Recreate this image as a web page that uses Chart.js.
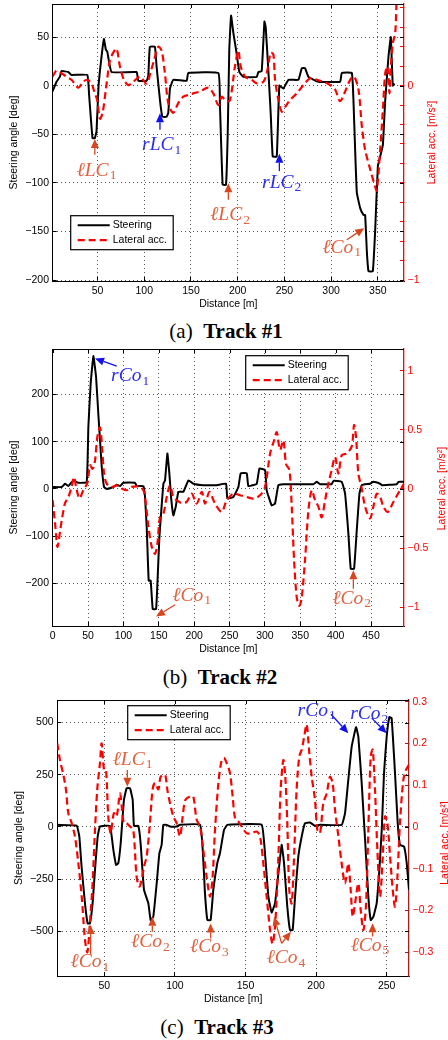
<!DOCTYPE html>
<html>
<head>
<meta charset="utf-8">
<script src="https://cdn.jsdelivr.net/npm/chart.js@4/dist/chart.umd.min.js"></script>
<style>
  body { margin: 0; background: #fff; width: 448px; height: 1040px; position: relative; overflow: hidden; }
  canvas { position: absolute; left: 0; }
  .cap { position: absolute; width: 448px; text-align: center; font: 21px/24px "Liberation Serif", serif; color: #000; }
</style>
</head>
<body>
<canvas id="c1" width="448" height="312" style="top:0px"></canvas>
<div class="cap" style="top:319px;left:2px">(a)&nbsp; <b>Track #1</b></div>
<canvas id="c2" width="448" height="317" style="top:340px"></canvas>
<div class="cap" style="top:665px;left:-4px">(b)&nbsp; <b>Track #2</b></div>
<canvas id="c3" width="448" height="317" style="top:690px"></canvas>
<div class="cap" style="top:1015px;left:-7px">(c)&nbsp; <b>Track #3</b></div>

<script>
// ---- Track #1 : [distance m, value] ----
const steer1 = [[1.8,-6],[6.1,4],[9.6,9],[11.4,15],[18.6,14],[22.1,11],[39,11],[41,-10],[44.6,-54],[47.1,-54],[48.9,-47],[51.1,0],[54.3,30],[56.8,48],[58.9,37],[60.4,35],[65,14],[91.8,14],[93.6,5],[102.5,5],[104.3,10],[106,40],[111.4,40],[113.2,19.5],[116.8,-15],[119.3,-32],[123.9,-32],[125.7,-28],[127.5,-3],[131,6],[145.4,5],[147.1,13],[179.3,13],[181,-20],[183.9,-102],[187.5,-102],[189.3,-50],[191,37],[192.9,72],[195.4,54],[198.2,37],[201.8,14],[206,9],[220.4,9],[222.1,14],[225.7,15],[228.6,66],[230,60],[232.9,14],[235.4,-30],[237.5,-73],[241.8,-73],[244.6,0],[248.9,-3],[254.3,6],[265,6],[268.6,18],[272.1,18],[275.7,9],[286.4,4],[309.6,4],[311.4,13],[322.1,13],[323.9,-15],[325.7,-66],[327.5,-110],[331.1,-126],[334.6,-133],[336.4,-133],[338.2,-170],[340,-191],[344.6,-191],[347.1,-150],[350,-83],[352.5,-73],[355.4,-61],[357.9,-15],[361.4,30],[363.9,50],[366,0],[367.9,2]];
const lat1 = [[1.8,0.046],[6.1,0.077],[11.4,0.064],[16.8,0.046],[22.1,0.03],[29.3,-0.01],[34.6,0.02],[39,0.03],[43.6,0.01],[47.1,-0.04],[49.6,-0.074],[52.5,-0.17],[55.4,-0.14],[58.9,-0.02],[63.2,0.13],[66.8,0.17],[70.4,0.19],[73.9,0.1],[78.2,0.03],[82.9,0.003],[88.2,0.02],[95.4,0.046],[102.5,0.01],[106.8,0.07],[110.4,0.13],[115,0.2],[118.6,0.18],[122.1,0.064],[125.7,-0.09],[131,-0.14],[136.4,-0.09],[141.8,-0.057],[147.1,-0.048],[152.5,-0.04],[159.6,-0.03],[168.6,-0.01],[173.9,-0.04],[179.3,-0.1],[182.9,-0.057],[187.5,-0.08],[191.8,-0.074],[197.1,0.1],[200.7,0.18],[203.2,0.1],[207.9,0.046],[215,0.03],[220.4,0.012],[227.5,0.02],[231.1,0.064],[235.4,0.17],[238.2,0.16],[240,0.03],[243.6,-0.074],[247.1,-0.134],[250.7,-0.11],[256.1,-0.074],[263.2,-0.04],[270.4,0.003],[277.5,0.038],[284.6,0.03],[291.8,0.02],[298.9,0.003],[304.3,-0.02],[309.6,-0.08],[315,-0.03],[320.4,0.03],[324.6,0.046],[329.3,-0.02],[332.9,-0.21],[336.4,-0.33],[341.8,-0.43],[347.1,-0.52],[348.9,-0.54],[352.5,-0.33],[355.4,-0.125],[357.9,0.064],[360.4,0.1],[362.5,-0.04],[363.9,0.1],[366.1,0.22],[368.6,0.27],[370.4,0.5]];
const xTicks1 = [50,100,150,200,250,300,350];
const yTicks1 = [-200,-150,-100,-50,0,50];
const rTicks1 = [-1,-0.9,-0.8,-0.7,-0.6,-0.5,-0.4,-0.3,-0.2,-0.1,0,0.1,0.2,0.3,0.4];
const rLabels1 = [-1,0];

// ---- Track #2 ----
const steer2 = [[0,4],[12.7,4],[17.4,11],[22,6],[29.2,18],[36.3,13],[48,14],[50.4,131],[53.7,223],[57.5,281],[61.3,237],[64.6,156],[66.9,103],[69.3,47],[72.6,4],[76.3,0],[85.8,4],[90.5,9],[95.2,6],[99.9,13],[116.4,13],[118.8,6],[128.2,6],[130.5,-17],[132.9,-81],[135.7,-194],[138.5,-194],[141.4,-254],[146.1,-254],[148,-201],[150.8,-102],[153.2,-52],[156.5,11],[158.8,18],[162.1,75],[164.9,33],[167.3,-17],[170.6,-56],[173.9,-38],[177.7,-6],[184.7,-6],[191.8,18],[198.9,11],[213,8],[231.9,8],[245,11],[246.9,-20],[255.4,-17],[262.5,4],[265.8,33],[274.3,33],[276.6,6],[288.4,11],[292.2,43],[300.2,40],[302.5,-3],[309.6,-35],[314.3,-31],[319,8],[326.1,10],[368.5,10],[373.2,15],[378,10],[394.4,10],[396.8,17],[408.6,15],[413.3,-10],[418,-95],[421.3,-169],[426,-169],[429.8,-88],[433.6,-10],[436.9,8],[448.6,11],[453.3,15],[462.8,11],[465.1,8],[486.3,10],[488.7,15],[496.7,15]];
const lat2 = [[0,-0.096],[3.3,-0.29],[6.6,-0.49],[8.5,-0.44],[10.4,-0.36],[12.7,-0.27],[17.4,-0.12],[22.1,-0.07],[26.9,0.02],[30.2,0.1],[33,0.02],[37.7,-0.08],[43.4,-0.01],[49,0.05],[52.8,0.2],[56.5,0.17],[59.8,0.24],[63.1,0.44],[66.9,0.52],[69.7,0.36],[72.6,0.13],[76.3,0.045],[83.4,0.017],[90.5,0.03],[97.5,0.003],[104.6,-0.011],[111.7,0.017],[123.5,0.017],[129.1,-0.025],[135.3,-0.32],[140,-0.49],[144.7,-0.55],[148,-0.46],[151.7,-0.24],[156.5,-0.21],[161.2,-0.068],[165.9,0.03],[170.6,-0.068],[175.3,-0.096],[182.4,-0.12],[189.4,-0.11],[196.5,-0.04],[203.6,-0.124],[210.7,-0.025],[215.4,-0.124],[221.5,-0.025],[229.5,-0.124],[238.9,-0.195],[246,-0.096],[255.4,-0.04],[264.8,-0.054],[274.3,-0.068],[283.7,-0.082],[293.1,-0.054],[300.2,0.017],[307.3,0.3],[312.9,0.41],[316.7,0.48],[321.4,0.33],[326.1,0.41],[329.9,0.21],[334.6,0.16],[337.9,-0.15],[341.2,-0.6],[345,-0.92],[348.7,-0.99],[352,-0.92],[356.7,-0.6],[361.5,-0.18],[366.2,-0.011],[370.9,-0.096],[375.6,-0.15],[380.3,-0.24],[385,-0.096],[389.7,0.045],[394.4,0.16],[399.2,0.27],[403.9,0.13],[408.6,0.285],[415.6,0.3],[422.7,0.36],[426,0.54],[428.8,0.44],[432.1,0.13],[436.9,0.003],[441.6,-0.15],[448.6,-0.25],[453.3,-0.15],[458.1,-0.04],[462.8,-0.068],[467.5,-0.15],[473.6,-0.195],[481.6,-0.11],[491,-0.011],[496.7,0.045]];
const xTicks2 = [0,50,100,150,200,250,300,350,400,450];
const yTicks2 = [-200,-100,0,100,200];
const rTicks2 = [-1,-0.5,0,0.5,1];
const rLabels2 = [-1,-0.5,0,0.5,1];

// ---- Track #3 ----
const steer3 = [[16.7,10],[30.4,6],[32.3,-46],[33.9,-190],[36.3,-366],[38.2,-462],[39.8,-462],[41.7,-366],[43.4,-206],[45.3,-46],[46.9,2],[54,5],[56.4,-110],[58.3,-182],[59.9,-174],[61.6,-78],[63.9,130],[65.8,185],[68.2,185],[70.1,130],[71,5],[74.1,5],[75.7,-78],[78.1,-302],[81.2,-366],[82.8,-446],[84.7,-430],[87.1,-270],[89,-126],[90.6,-86],[91.8,10],[94.2,10],[96.5,2],[101.2,2],[103.6,10],[117.8,10],[119.7,-110],[121.3,-318],[123,-446],[125.3,-446],[127.2,-302],[130,-174],[131.9,-126],[134.8,-14],[137.1,10],[146.1,13],[161.5,10],[163.8,-126],[166.2,-334],[168.5,-410],[170.9,-366],[173.3,-222],[175.6,-86],[177.3,-174],[179.6,-382],[181.5,-494],[183.4,-494],[185.1,-334],[187.4,-142],[189.8,-46],[192.1,18],[195.7,21],[199.2,5],[202.8,10],[218.1,10],[220.5,66],[222.8,225],[225.2,385],[228.3,478],[229.9,433],[232.3,209],[234.7,-62],[237,-334],[238.7,-446],[240.6,-430],[242.9,-366],[244.8,-206],[246.5,-14],[248.1,257],[250,433],[251.9,526],[253.5,521],[255.9,257],[257.8,18],[259.4,-86],[262.3,-94],[264.2,-174],[265.8,-302]];
const lat3 = [[16.7,0.2],[18.6,0.16],[21,0.125],[22.8,0.09],[24.5,0.033],[26.9,0.009],[29.2,-0.023],[31.6,-0.087],[34,-0.167],[36.3,-0.27],[38,-0.3],[39.8,-0.23],[41.7,-0.135],[43.4,-0.007],[45,0.09],[46.9,0.153],[48.1,0.2],[49.8,0.137],[51.2,0.137],[52.8,0.025],[54.5,-0.015],[56.8,0.033],[58.7,0.025],[61.1,0.08],[62.3,0.05],[63.9,0.009],[65.8,0.009],[68.2,0.001],[70.5,-0.007],[72.9,-0.12],[74.8,-0.143],[76.4,-0.127],[78.1,-0.095],[80,-0.071],[82.3,0.009],[84.2,0.09],[85.9,0.105],[88.3,0.09],[89.9,0.12],[93,0.125],[94.6,0.09],[96.5,0.057],[98.9,0.025],[101.2,0.009],[103.6,-0.023],[105.5,0.025],[107.4,0.065],[110.7,0.073],[113,0.073],[115.4,0.017],[117.8,0.001],[120.1,-0.055],[122.5,-0.12],[124.9,-0.167],[126.7,-0.12],[128.4,-0.007],[130.8,0.105],[133.1,0.16],[134.8,0.165],[136.7,0.153],[139,0.129],[140.9,0.073],[142.6,0.021],[144.9,0.013],[147.3,0.001],[150.8,-0.015],[154.4,-0.015],[157.9,-0.011],[160.3,-0.023],[162.6,-0.087],[165,-0.167],[167.4,-0.247],[169.2,-0.28],[171.1,-0.23],[173.3,-0.071],[174.9,0.09],[176.8,0.16],[178.2,0.12],[179.6,0.009],[181,-0.151],[182.7,-0.183],[184.4,-0.071],[186.2,0.09],[188.1,0.169],[189.8,0.185],[191.4,0.213],[193.3,0.245],[195.2,0.177],[196.9,0.12],[199.2,0.065],[200.9,-0.007],[202.8,-0.015],[205.1,0.057],[207.5,0.08],[209.8,0.12],[211.7,0.105],[213.4,0.041],[215.8,-0.023],[218.1,-0.087],[220.5,-0.135],[222.8,-0.087],[224.5,-0.151],[225.9,-0.215],[227.6,-0.183],[229.9,-0.135],[231.6,-0.199],[233.5,-0.247],[235.4,-0.183],[237,-0.007],[238.7,0.169],[240.1,0.185],[241.7,0.09],[243.4,-0.055],[245.3,-0.167],[247.2,-0.071],[248.8,0.025],[250.5,0.009],[252.4,-0.071],[254.3,-0.151],[255.9,-0.191],[257.6,-0.119],[259.4,0.009],[261.8,0.113],[263.7,0.137],[265.8,0.149]];
const xTicks3 = [50,100,150,200,250];
const yTicks3 = [-500,-250,0,250,500];
const rTicks3 = [-0.3,-0.2,-0.1,0,0.1,0.2,0.3];
const rLabels3 = [-0.3,-0.2,-0.1,0,0.1,0.2,0.3];

// annotations: text, subscript, text centre, arrow tail, arrow tips (left axis units)
const notes1 = [
  {t:'ℓLC', s:'1', at:[48.9,-86],   from:[47.1,-71],   tips:[[47.1,-55]],   side:'l'},
  {t:'rLC', s:'1', at:[118.6,-60],  from:[116.8,-45.5],tips:[[116.8,-28.4]],side:'r'},
  {t:'ℓLC', s:'2', at:[191.8,-132], from:[190,-117.5], tips:[[190,-100.3]], side:'l'},
  {t:'rLC', s:'2', at:[247.1,-98.6],from:[244.6,-88],  tips:[[244.6,-70]],  side:'r'},
  {t:'ℓCo', s:'1', at:[311.4,-165], from:[316.8,-158.6],tips:[[335.4,-146.6]],side:'l'}
];
const notes2 = [
  {t:'rCo', s:'1', at:[109.4,241],  from:[90.5,260],   tips:[[59.8,276]],   side:'r'},
  {t:'ℓCo', s:'1', at:[196.5,-223], from:[173,-245],   tips:[[146.1,-270]], side:'l'},
  {t:'ℓCo', s:'2', at:[422.7,-229], from:[425,-211],   tips:[[425,-172]],   side:'l'}
];
const notes3 = [
  {t:'ℓLC', s:'1', at:[70,329],     from:[66.3,273],   tips:[[66.3,193]],   side:'l'},
  {t:'ℓCo', s:'1', at:[39.8,-640],  from:[40.3,-613],  tips:[[40.3,-470]],  side:'l'},
  {t:'ℓCo', s:'2', at:[82.6,-545],  from:[84,-502],    tips:[[84,-430]],    side:'l'},
  {t:'ℓCo', s:'3', at:[124.4,-569], from:[125.3,-534], tips:[[125.3,-462]], side:'l'},
  {t:'ℓCo', s:'4', at:[178.7,-621], from:[175.6,-558], tips:[[170.2,-430],[182.2,-502]], side:'l'},
  {t:'ℓCo', s:'5', at:[238.2,-562], from:[240,-525],   tips:[[240,-461]],   side:'l'},
  {t:'rCo', s:'1', at:[200.4,564],  from:[210.5,540],  tips:[[222.8,449]],  side:'r'},
  {t:'rCo', s:'2', at:[237.7,548],  from:[239.4,521],  tips:[[250,449]],    side:'r'}
];

const FONT = '"Liberation Sans", Arial, sans-serif';
const fmt = v => String(v).replace('-', '\u2212');
const pts = arr => arr.map(([x, y]) => ({x, y}));

function arrow(ctx, x0, y0, x1, y1) {
  const a = Math.atan2(y1 - y0, x1 - x0), L = 9, W = 4;
  const bx = x1 - L * Math.cos(a), by = y1 - L * Math.sin(a);
  ctx.beginPath(); ctx.moveTo(x0, y0); ctx.lineTo(bx, by); ctx.stroke();
  ctx.beginPath(); ctx.moveTo(x1, y1);
  ctx.lineTo(bx + W * Math.sin(a), by - W * Math.cos(a));
  ctx.lineTo(bx - W * Math.sin(a), by + W * Math.cos(a));
  ctx.closePath(); ctx.fill();
}

function drawPanel(id, p) {
  const extras = {
    id: 'extras',
    afterDraw(chart) {
      const {ctx, chartArea: a, scales} = chart;
      const sx = scales.x, sy = scales.y;
      ctx.save();
      // top border + mirrored ticks (MATLAB box)
      ctx.strokeStyle = '#000'; ctx.lineWidth = 1;
      ctx.beginPath();
      ctx.moveTo(a.left, a.top + 0.5); ctx.lineTo(a.right, a.top + 0.5);
      sx.ticks.forEach(t => { const px = Math.round(sx.getPixelForValue(t.value)) + 0.5; ctx.moveTo(px, a.top); ctx.lineTo(px, a.top + 4); });
      sy.ticks.forEach(t => { const py = Math.round(sy.getPixelForValue(t.value)) + 0.5; ctx.moveTo(a.right, py); ctx.lineTo(a.right - 4, py); });
      ctx.stroke();

      // right axis title, reading bottom to top
      ctx.save();
      ctx.translate(a.right + p.rTitleDx, (a.top + a.bottom) / 2 + p.rTitleDy);
      ctx.rotate(-Math.PI / 2);
      ctx.fillStyle = '#f00'; ctx.font = '10.5px ' + FONT;
      ctx.textAlign = 'center'; ctx.textBaseline = 'middle';
      ctx.fillText('Lateral acc. [m/s\u00b2]', 0, 0);
      ctx.restore();

      // annotations
      p.notes.forEach(n => {
        const left = n.side === 'l';
        ctx.strokeStyle = ctx.fillStyle = left ? '#d6461f' : '#1010f0';
        ctx.lineWidth = 1.3;
        const fx = sx.getPixelForValue(n.from[0]), fy = sy.getPixelForValue(n.from[1]);
        n.tips.forEach(t => arrow(ctx, fx, fy, sx.getPixelForValue(t[0]), sy.getPixelForValue(t[1])));
        ctx.fillStyle = left ? '#e3613f' : '#2d2df2';
        const mainF = 'italic 19.5px "Liberation Serif", "DejaVu Serif", serif';
        const subF = '13.5px "Liberation Serif", "DejaVu Serif", serif';
        ctx.font = mainF; const w1 = ctx.measureText(n.t).width;
        ctx.font = subF; const w2 = ctx.measureText(n.s).width;
        const x0 = sx.getPixelForValue(n.at[0]) - (w1 + w2 + 1) / 2;
        const base = sy.getPixelForValue(n.at[1]) + 6.5;
        ctx.textAlign = 'left'; ctx.textBaseline = 'alphabetic';
        ctx.font = mainF; ctx.fillText(n.t, x0, base);
        ctx.font = subF; ctx.fillText(n.s, x0 + w1 + 1, base + 3.5);
      });

      // legend box
      const bx = a.left + p.legend[0], by = a.top + p.legend[1];
      ctx.fillStyle = '#fff'; ctx.fillRect(bx, by, 102.5, 34);
      ctx.strokeStyle = '#000'; ctx.lineWidth = 1.2; ctx.strokeRect(bx, by, 102.5, 34);
      [1, 0].forEach((di, k) => {
        const ds = chart.data.datasets[di];
        const ly = by + 9.5 + k * 15;
        ctx.strokeStyle = ds.borderColor; ctx.lineWidth = ds.borderWidth;
        ctx.setLineDash(ds.borderDash || []);
        ctx.beginPath(); ctx.moveTo(bx + 7, ly); ctx.lineTo(bx + 39, ly); ctx.stroke();
        ctx.setLineDash([]);
        ctx.fillStyle = '#000'; ctx.font = '10.5px ' + FONT;
        ctx.textBaseline = 'middle'; ctx.fillText(ds.label, bx + 42, ly);
      });
      ctx.restore();
    }
  };

  new Chart(document.getElementById(id), {
    type: 'line',
    data: {
      datasets: [
        {label: 'Lateral acc.', data: pts(p.lat), yAxisID: 'y2', order: 0,
         borderColor: '#ff0000', borderWidth: 2.2, borderDash: [7, 4], tension: 0.3, pointRadius: 0, fill: false},
        {label: 'Steering', data: pts(p.steer), yAxisID: 'y', order: 1,
         borderColor: '#000000', borderWidth: 2, tension: 0.1, pointRadius: 0, fill: false}
      ]
    },
    options: {
      responsive: false,
      animation: false,
      devicePixelRatio: 1,
      events: [],
      layout: {padding: {top: p.padTop, left: 0, right: 0, bottom: 0}},
      plugins: {legend: {display: false}, tooltip: {enabled: false}},
      scales: {
        x: {
          type: 'linear', position: 'bottom', min: p.xMin, max: p.xMax,
          afterBuildTicks: s => { s.ticks = p.xTicks.map(v => ({value: v})); },
          afterFit: s => { s.height = 31; s.paddingLeft = s.paddingRight = 0; },
          ticks: {autoSkip: false, maxRotation: 0, padding: 7.7, color: '#000', font: {family: FONT, size: 10.5}, callback: fmt},
          grid: {color: '#555555', lineWidth: 1, tickLength: -4, tickColor: '#000', tickWidth: 1},
          border: {color: '#000', width: 1, dash: [1, 3]},
          title: {display: true, text: 'Distance [m]', color: '#000', font: {family: FONT, size: 10.5}, padding: {top: 0, bottom: 1.7}}
        },
        y: {
          type: 'linear', position: 'left', min: p.yMin, max: p.yMax,
          afterBuildTicks: s => { s.ticks = p.yTicks.map(v => ({value: v})); },
          afterFit: s => { s.width = p.leftW; s.paddingTop = s.paddingBottom = 0; },
          ticks: {autoSkip: false, padding: 7.7, color: '#000', font: {family: FONT, size: 10.5}, callback: fmt},
          grid: {color: '#555555', lineWidth: 1, tickLength: -4, tickColor: '#000', tickWidth: 1},
          border: {color: '#000', width: 1, dash: [1, 3]},
          title: {display: true, text: 'Steering angle [deg]', color: '#000', font: {family: FONT, size: 10.5}, padding: {top: p.yTitlePad, bottom: 0}}
        },
        y2: {
          type: 'linear', position: 'right', min: p.rMin, max: p.rMax,
          afterBuildTicks: s => { s.ticks = p.rTicks.map(v => ({value: v})); },
          afterFit: s => { s.width = p.rightW; s.paddingTop = s.paddingBottom = 0; },
          ticks: {autoSkip: false, padding: 7.5, color: '#f00', font: {family: FONT, size: 10.5},
                  callback: v => p.rLabels.includes(v) ? fmt(v) : ''},
          grid: {drawOnChartArea: false, tickLength: -4, tickColor: p.axisColor, tickWidth: 1},
          border: {color: p.axisColor, width: 1.3}
        }
      }
    },
    plugins: [extras]
  });
}

drawPanel('c1', {
  steer: steer1, lat: lat1, notes: notes1,
  xMin: 2, xMax: 378, xTicks: xTicks1,
  yMin: -201, yMax: 84, yTicks: yTicks1,
  rMin: -1.005, rMax: 0.42, rTicks: rTicks1, rLabels: rLabels1,
  padTop: 4, leftW: 52.7, rightW: 44, yTitlePad: 8,
  rTitleDx: 28.3, rTitleDy: 0, axisColor: '#ff0000', legend: [18, 211.7]
});
drawPanel('c2', {
  steer: steer2, lat: lat2, notes: notes2,
  xMin: 0, xMax: 496.6, xTicks: xTicks2,
  yMin: -290, yMax: 296, yTicks: yTicks2,
  rMin: -1.16, rMax: 1.184, rTicks: rTicks2, rLabels: rLabels2,
  padTop: 9, leftW: 52.7, rightW: 44, yTitlePad: 7.7,
  rTitleDx: 37.7, rTitleDy: 1, axisColor: '#ff0000', legend: [193, 6.7]
});
drawPanel('c3', {
  steer: steer3, lat: lat3, notes: notes3,
  xMin: 16.7, xMax: 265.8, xTicks: xTicks3,
  yMin: -714, yMax: 608, yTicks: yTicks3,
  rMin: -0.357, rMax: 0.304, rTicks: rTicks3, rLabels: rLabels3,
  padTop: 10, leftW: 57.3, rightW: 39, yTitlePad: 12.7,
  rTitleDx: 36, rTitleDy: 5, axisColor: '#a31f1f', legend: [70.4, 5.7]
});
</script>
</body>
</html>
